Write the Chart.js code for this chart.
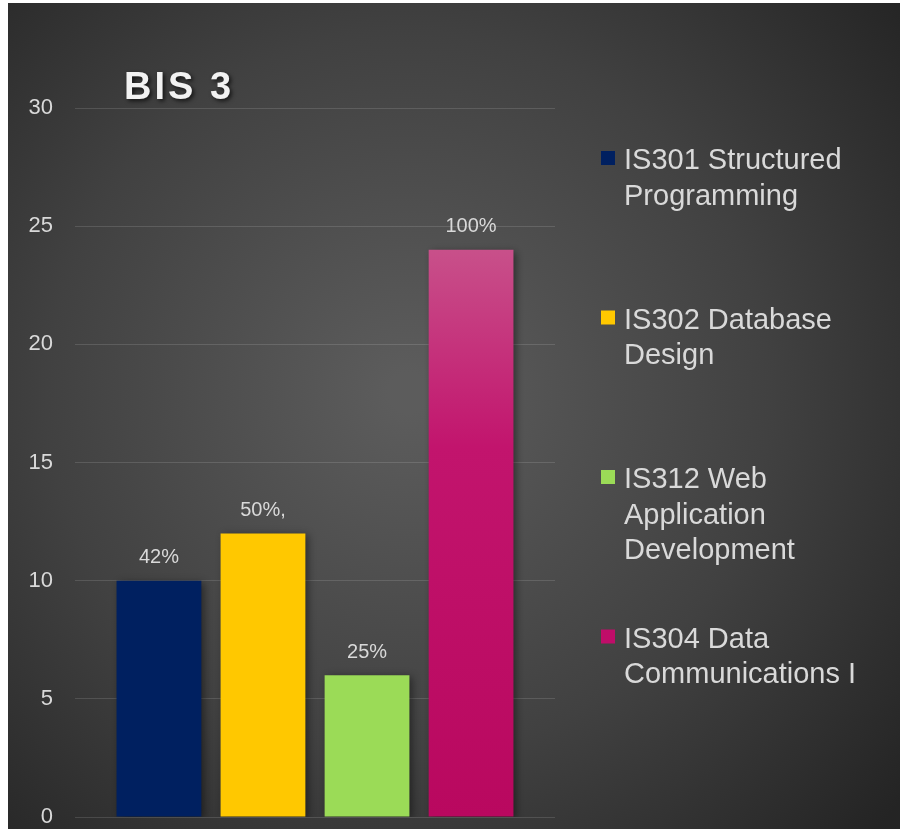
<!DOCTYPE html>
<html>
<head>
<meta charset="utf-8">
<script src="https://cdn.jsdelivr.net/npm/chart.js@4/dist/chart.umd.min.js"></script>
<style>
  body { margin: 0; background: #fff; }
  #wrap { position: absolute; left: 8px; top: 3px; width: 892px; height: 826px; }
</style>
</head>
<body>
<div id="wrap"><canvas id="bisChart" width="892" height="826"></canvas></div>
<script>
// === Dữ liệu
const chartTitle = "BIS 3";
const courses = [
  "IS301 Structured\nProgramming",
  "IS302 Database\nDesign",
  "IS312 Web\nApplication\nDevelopment",
  "IS304 Data\nCommunications I"
];
const students = [10, 12, 6, 24];
const pctLabels = ["42%", "50%,", "25%", "100%"];
const yTicks = [0, 5, 10, 15, 20, 25, 30];
const barColors = ["#002060", "#ffc800", "#9bdb57", "#c00d69"];

const textColor = "#d9d9d9";
const fontFam = "'Liberation Sans', Arial, sans-serif";

// Nền gradient
const bgPlugin = {
  id: "bg",
  beforeDraw(chart) {
    const { ctx, width, height } = chart;
    const g = ctx.createRadialGradient(400, 390, 20, 400, 390, 640);
    g.addColorStop(0, "#5c5c5c");
    g.addColorStop(0.55, "#414141");
    g.addColorStop(1, "#242424");
    ctx.save();
    ctx.fillStyle = g;
    ctx.fillRect(0, 0, width, height);
    ctx.restore();
  },
};

// Bóng đổ cho cột
const shadowPlugin = {
  id: "barShadow",
  beforeDatasetsDraw(chart) {
    const ctx = chart.ctx;
    ctx.save();
    ctx.shadowColor = "rgba(0,0,0,0.45)";
    ctx.shadowBlur = 8;
    ctx.shadowOffsetX = 3;
    ctx.shadowOffsetY = 2;
  },
  afterDatasetsDraw(chart) {
    chart.ctx.restore();
  },
};

// Nhãn %, tiêu đề, chú thích
const overlayPlugin = {
  id: "overlay",
  afterDraw(chart) {
    const ctx = chart.ctx;
    ctx.save();

    // nhãn phần trăm trên cột
    ctx.fillStyle = textColor;
    ctx.font = "20px " + fontFam;
    ctx.textAlign = "center";
    ctx.textBaseline = "bottom";
    chart.data.datasets.forEach((ds, i) => {
      const bar = chart.getDatasetMeta(i).data[0];
      ctx.fillText(pctLabels[i], bar.x, bar.y - 13);
    });

    // tiêu đề
    ctx.font = "bold 38px " + fontFam;
    ctx.textAlign = "left";
    ctx.textBaseline = "alphabetic";
    if ("letterSpacing" in ctx) ctx.letterSpacing = "3px";
    ctx.shadowColor = "rgba(0,0,0,0.7)";
    ctx.shadowBlur = 4;
    ctx.shadowOffsetX = 2;
    ctx.shadowOffsetY = 2;
    ctx.fillStyle = "#f2f2f2";
    ctx.fillText(chartTitle, 116, 96);
    ctx.shadowColor = "transparent";
    if ("letterSpacing" in ctx) ctx.letterSpacing = "0px";

    // chú thích
    ctx.font = "29px " + fontFam;
    courses.forEach((name, i) => {
      const top = 144 + i * 159.5;
      ctx.fillStyle = barColors[i];
      ctx.fillRect(593, top + 4, 14, 14);
      ctx.fillStyle = textColor;
      name.split("\n").forEach((line, j) => {
        ctx.fillText(line, 616, top + 22 + j * 35.5);
      });
    });
    ctx.restore();
  },
};

const ctx = document.getElementById("bisChart").getContext("2d");
new Chart(ctx, {
  type: "bar",
  data: {
    labels: [chartTitle],
    datasets: courses.map((c, i) => ({
      label: c.replace(/\n/g, " "),
      data: [students[i]],
      backgroundColor:
        i === 3
          ? (context) => {
              const ca = context.chart.chartArea;
              if (!ca) return barColors[i];
              const y = context.chart.scales.y;
              const g = context.chart.ctx.createLinearGradient(0, y.getPixelForValue(students[i]), 0, y.getPixelForValue(0));
              g.addColorStop(0, "#c8508a");
              g.addColorStop(0.35, "#c2146d");
              g.addColorStop(1, "#b9085f");
              return g;
            }
          : barColors[i],
      borderWidth: 0,
      barPercentage: 0.815,
      categoryPercentage: 0.867,
    })),
  },
  options: {
    responsive: false,
    animation: false,
    layout: { padding: { top: 105, bottom: 12, right: 345, left: 0 } },
    plugins: {
      legend: { display: false },
      tooltip: { enabled: false },
      title: { display: false },
    },
    scales: {
      x: { display: false },
      y: {
        min: yTicks[0],
        max: yTicks[yTicks.length - 1],
        afterFit: (s) => { s.width = 67; },
        afterBuildTicks: (s) => { s.ticks = yTicks.map((v) => ({ value: v })); },
        border: { display: false },
        grid: {
          color: "rgba(255,255,255,0.13)",
          lineWidth: 1,
          drawTicks: true,
          tickLength: 22,
          tickColor: "rgba(0,0,0,0)",
        },
        ticks: {
          color: textColor,
          font: { family: fontFam, size: 22, lineHeight: 1 },
          padding: 0,
        },
      },
    },
  },
  plugins: [bgPlugin, shadowPlugin, overlayPlugin],
});
</script>
</body>
</html>
